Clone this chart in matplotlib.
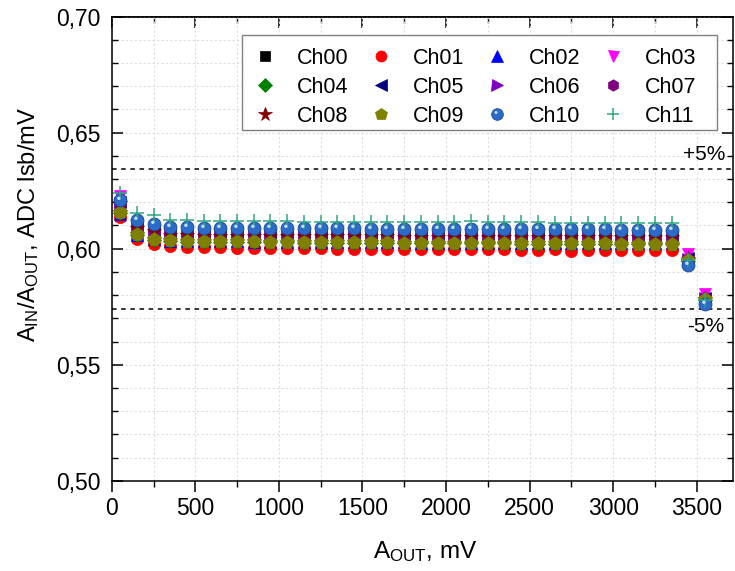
import numpy as np
import matplotlib
matplotlib.use("Agg")
import matplotlib.pyplot as plt
from matplotlib.ticker import MultipleLocator, FuncFormatter
from matplotlib.path import Path
from matplotlib.patches import Rectangle

plt.rcParams['font.family'] = ['Liberation Sans', 'DejaVu Sans']
plt.rcParams['mathtext.fontset'] = 'custom'
plt.rcParams['mathtext.rm'] = 'Liberation Sans'
plt.rcParams['mathtext.it'] = 'Liberation Sans:italic'

# ---------------- data ----------------
a_out = [50, 150, 250, 350, 450, 550, 650, 750, 850, 950, 1050, 1150, 1250, 1350,
         1450, 1550, 1650, 1750, 1850, 1950, 2050, 2150, 2250, 2350, 2450, 2550,
         2650, 2750, 2850, 2950, 3050, 3150, 3250, 3350, 3450, 3550]

ch00 = [0.6140, 0.6050, 0.6035, 0.6030, 0.6029, 0.6028, 0.6028, 0.6027, 0.6027, 0.6026,
        0.6026, 0.6025, 0.6025, 0.6025, 0.6024, 0.6024, 0.6024, 0.6023, 0.6023, 0.6023,
        0.6023, 0.6022, 0.6022, 0.6022, 0.6021, 0.6021, 0.6021, 0.6020, 0.6020, 0.6020,
        0.6020, 0.6019, 0.6019, 0.6019, 0.5952, 0.5782]
ch01 = [0.6135, 0.6040, 0.6018, 0.6010, 0.6008, 0.6007, 0.6006, 0.6005, 0.6004, 0.6003,
        0.6002, 0.6001, 0.6001, 0.6000, 0.6000, 0.5999, 0.5999, 0.6000, 0.5999, 0.5998,
        0.5998, 0.5998, 0.5997, 0.5997, 0.5996, 0.5996, 0.5997, 0.5989, 0.5996, 0.5995,
        0.5995, 0.5994, 0.5994, 0.5994, 0.5950, 0.5785]
ch02 = [0.6150, 0.6058, 0.6040, 0.6034, 0.6033, 0.6032, 0.6031, 0.6031, 0.6030, 0.6030,
        0.6029, 0.6029, 0.6028, 0.6028, 0.6028, 0.6027, 0.6027, 0.6027, 0.6026, 0.6026,
        0.6026, 0.6026, 0.6025, 0.6025, 0.6025, 0.6025, 0.6024, 0.6024, 0.6024, 0.6024,
        0.6023, 0.6023, 0.6023, 0.6023, 0.5950, 0.5780]
ch03 = [0.6228, 0.6100, 0.6082, 0.6070, 0.6068, 0.6067, 0.6066, 0.6066, 0.6065, 0.6065,
        0.6064, 0.6064, 0.6063, 0.6063, 0.6063, 0.6062, 0.6062, 0.6062, 0.6061, 0.6061,
        0.6061, 0.6061, 0.6060, 0.6060, 0.6060, 0.6060, 0.6059, 0.6059, 0.6059, 0.6059,
        0.6058, 0.6058, 0.6058, 0.6058, 0.5978, 0.5806]
ch04 = [0.6152, 0.6060, 0.6038, 0.6031, 0.6030, 0.6029, 0.6029, 0.6028, 0.6028, 0.6027,
        0.6027, 0.6026, 0.6026, 0.6026, 0.6025, 0.6025, 0.6025, 0.6024, 0.6024, 0.6024,
        0.6024, 0.6023, 0.6023, 0.6023, 0.6022, 0.6022, 0.6022, 0.6021, 0.6021, 0.6021,
        0.6021, 0.6020, 0.6020, 0.6020, 0.5948, 0.5780]
ch05 = [0.6200, 0.6092, 0.6075, 0.6063, 0.6061, 0.6060, 0.6060, 0.6059, 0.6059, 0.6058,
        0.6058, 0.6058, 0.6057, 0.6057, 0.6057, 0.6056, 0.6056, 0.6056, 0.6056, 0.6055,
        0.6055, 0.6055, 0.6055, 0.6054, 0.6054, 0.6054, 0.6054, 0.6053, 0.6053, 0.6053,
        0.6053, 0.6052, 0.6052, 0.6052, 0.5958, 0.5788]
ch06 = [0.6195, 0.6090, 0.6072, 0.6062, 0.6060, 0.6059, 0.6059, 0.6058, 0.6058, 0.6057,
        0.6057, 0.6057, 0.6056, 0.6056, 0.6056, 0.6055, 0.6055, 0.6055, 0.6055, 0.6054,
        0.6054, 0.6054, 0.6054, 0.6053, 0.6053, 0.6053, 0.6053, 0.6052, 0.6052, 0.6052,
        0.6052, 0.6051, 0.6051, 0.6051, 0.5957, 0.5787]
ch07 = [0.6192, 0.6088, 0.6070, 0.6060, 0.6058, 0.6058, 0.6057, 0.6057, 0.6056, 0.6056,
        0.6056, 0.6055, 0.6055, 0.6055, 0.6054, 0.6054, 0.6054, 0.6054, 0.6053, 0.6053,
        0.6053, 0.6053, 0.6052, 0.6052, 0.6052, 0.6052, 0.6051, 0.6051, 0.6051, 0.6051,
        0.6050, 0.6050, 0.6050, 0.6050, 0.5956, 0.5786]
ch08 = [0.6195, 0.6090, 0.6078, 0.6058, 0.6057, 0.6056, 0.6056, 0.6055, 0.6055, 0.6055,
        0.6054, 0.6054, 0.6054, 0.6053, 0.6053, 0.6053, 0.6053, 0.6052, 0.6052, 0.6052,
        0.6052, 0.6051, 0.6051, 0.6051, 0.6051, 0.6050, 0.6050, 0.6050, 0.6050, 0.6050,
        0.6049, 0.6049, 0.6049, 0.6049, 0.5955, 0.5784]
ch09 = [0.6158, 0.6065, 0.6043, 0.6036, 0.6034, 0.6033, 0.6032, 0.6032, 0.6031, 0.6030,
        0.6029, 0.6029, 0.6028, 0.6028, 0.6027, 0.6027, 0.6027, 0.6026, 0.6026, 0.6026,
        0.6025, 0.6025, 0.6025, 0.6024, 0.6024, 0.6024, 0.6023, 0.6023, 0.6023, 0.6023,
        0.6022, 0.6022, 0.6022, 0.6022, 0.5953, 0.5785]
ch10 = [0.6209, 0.6122, 0.6108, 0.6094, 0.6092, 0.6091, 0.6090, 0.6090, 0.6089, 0.6089,
        0.6088, 0.6088, 0.6087, 0.6087, 0.6087, 0.6086, 0.6086, 0.6086, 0.6085, 0.6085,
        0.6085, 0.6085, 0.6084, 0.6084, 0.6084, 0.6084, 0.6083, 0.6083, 0.6083, 0.6083,
        0.6082, 0.6082, 0.6082, 0.6082, 0.5928, 0.5763]
ch11 = [0.6240, 0.6154, 0.6145, 0.6125, 0.6122, 0.6120, 0.6120, 0.6119, 0.6119, 0.6118,
        0.6118, 0.6115, 0.6116, 0.6116, 0.6115, 0.6115, 0.6115, 0.6114, 0.6116, 0.6114,
        0.6114, 0.6119, 0.6113, 0.6113, 0.6115, 0.6113, 0.6112, 0.6112, 0.6112, 0.6112,
        0.6112, 0.6111, 0.6111, 0.6111, 0.5950, 0.5780]

channel_names = ["Ch00", "Ch01", "Ch02", "Ch03", "Ch04", "Ch05",
                 "Ch06", "Ch07", "Ch08", "Ch09", "Ch10", "Ch11"]
channel_values = [ch00, ch01, ch02, ch03, ch04, ch05, ch06, ch07, ch08, ch09, ch10, ch11]

limit_labels = ["+5%", "-5%"]
limit_values = [0.6343, 0.5738]

y_ticks = [0.50, 0.55, 0.60, 0.65, 0.70]
x_ticks = [0, 500, 1000, 1500, 2000, 2500, 3000, 3500]

# ---------------- style ----------------
styles = [
    dict(marker='s', color='#000000', ms=7.5),
    dict(marker='o', color='#ff0000', ms=8.8),
    dict(marker='^', color='#0000ff', ms=8.8),
    dict(marker='v', color='#ff00ff', ms=8.8),
    dict(marker='D', color='#008000', ms=7.5),
    dict(marker='<', color='#000080', ms=8.8),
    dict(marker='>', color='#8000c0', ms=8.8),
    dict(marker='h', color='#800080', ms=9.2),
    dict(marker='*', color='#800000', ms=11.0),
    dict(marker='p', color='#808000', ms=10.0),
    dict(marker='o', color='#2c6cc8', ms=9.3),
    dict(marker='+', color='#2fa584', ms=10.0),
]

fig = plt.figure(figsize=(7.35, 5.71), dpi=100)
ax = fig.add_axes([0.152, 0.158, 0.845, 0.813])

# highlight marker for the "sphere" look of Ch10
circ = Path.circle(center=(-0.13, 0.17), radius=0.13)
verts = np.vstack([circ.vertices, [[-0.5, -0.5], [0.5, 0.5]]])
codes = np.concatenate([circ.codes, [Path.MOVETO, Path.MOVETO]])
hl_path = Path(verts, codes)

handles = {}
for name, vals, st in zip(channel_names, channel_values, styles):
    if st['marker'] == '+':
        h, = ax.plot(a_out, vals, linestyle='none', marker='+', color=st['color'],
                     ms=st['ms'], mew=1.1, zorder=3)
    elif name == "Ch10":
        h0, = ax.plot(a_out, vals, linestyle='none', marker='o', mfc=st['color'],
                      mec='#1b4a94', mew=0.6, ms=st['ms'], zorder=3)
        h1, = ax.plot(a_out, vals, linestyle='none', marker=hl_path, mfc='#c8ddf5',
                      mec='none', ms=st['ms'], zorder=3.1)
        h = (h0, h1)
    else:
        h, = ax.plot(a_out, vals, linestyle='none', marker=st['marker'], mfc=st['color'],
                     mec=st['color'], mew=0.5, ms=st['ms'], zorder=3)
    handles[name] = h

for lv in limit_values:
    ax.axhline(lv, color='black', linestyle=(0, (3, 3)), linewidth=1.1, zorder=2)

ax.text(3545, limit_values[0] + 0.0023, limit_labels[0], ha='center', va='bottom', fontsize=15)
ax.text(3555, limit_values[1] - 0.0032, limit_labels[1], ha='center', va='top', fontsize=15)

ax.set_xlim(0, 3716)
ax.set_ylim(0.50, 0.70)
ax.set_xticks(x_ticks)
ax.set_yticks(y_ticks)
ax.xaxis.set_minor_locator(MultipleLocator(250))
ax.yaxis.set_minor_locator(MultipleLocator(0.01))
ax.yaxis.set_major_formatter(FuncFormatter(lambda v, p: f"{v:.2f}".replace('.', ',')))

ax.grid(which='both', color='#dddddd', linestyle=(0, (2, 2)), linewidth=0.8, zorder=0)
ax.set_axisbelow(True)

for sp in ax.spines.values():
    sp.set_linewidth(1.1)

ax.tick_params(axis='y', which='both', direction='in', left=True, right=True,
               labelsize=16.5, pad=8, width=1.1)
ax.tick_params(axis='y', which='major', length=8)
ax.tick_params(axis='y', which='minor', length=4, width=1.0)
ax.tick_params(axis='x', which='both', direction='out', bottom=True, top=False,
               labelsize=16.5, pad=4, width=1.1)
ax.tick_params(axis='x', which='major', length=8)
ax.tick_params(axis='x', which='minor', length=4, width=1.0)

sec = ax.secondary_xaxis('top')
sec.set_xticks(x_ticks)
sec.xaxis.set_minor_locator(MultipleLocator(250))
sec.tick_params(which='both', direction='in', labeltop=False, width=1.1)
sec.tick_params(which='major', length=8)
sec.tick_params(which='minor', length=4, width=1.0)
sec.spines['top'].set_linewidth(1.1)

ax.set_ylabel(r"A$_{\mathrm{IN}}$/A$_{\mathrm{OUT}}$, ADC lsb/mV", fontsize=17)
ax.yaxis.set_label_coords(-0.114, 0.551)
ax.set_xlabel(r"A$_{\mathrm{OUT}}$, mV", fontsize=17.5)
ax.xaxis.set_label_coords(0.5044, -0.125)

# legend frame
ax.add_patch(Rectangle((0.2097, 0.756), 0.7646, 0.2046, transform=ax.transAxes,
                       facecolor='white', edgecolor='#808080', linewidth=1.0,
                       zorder=4.5, clip_on=False))

# legend, filled row-wise (4 columns x 3 rows)
order = [0, 4, 8, 1, 5, 9, 2, 6, 10, 3, 7, 11]
leg = ax.legend([handles[channel_names[i]] for i in order],
                [channel_names[i] for i in order],
                ncol=4, loc='upper left', bbox_to_anchor=(0.2294, 0.933),
                borderaxespad=0, borderpad=0, fontsize=15.5, frameon=False,
                handlelength=1.0, handletextpad=0.99, columnspacing=1.01,
                labelspacing=0.38, numpoints=1, markerscale=0.9)
leg.set_zorder(5)

fig.savefig("out.png", dpi=100)
